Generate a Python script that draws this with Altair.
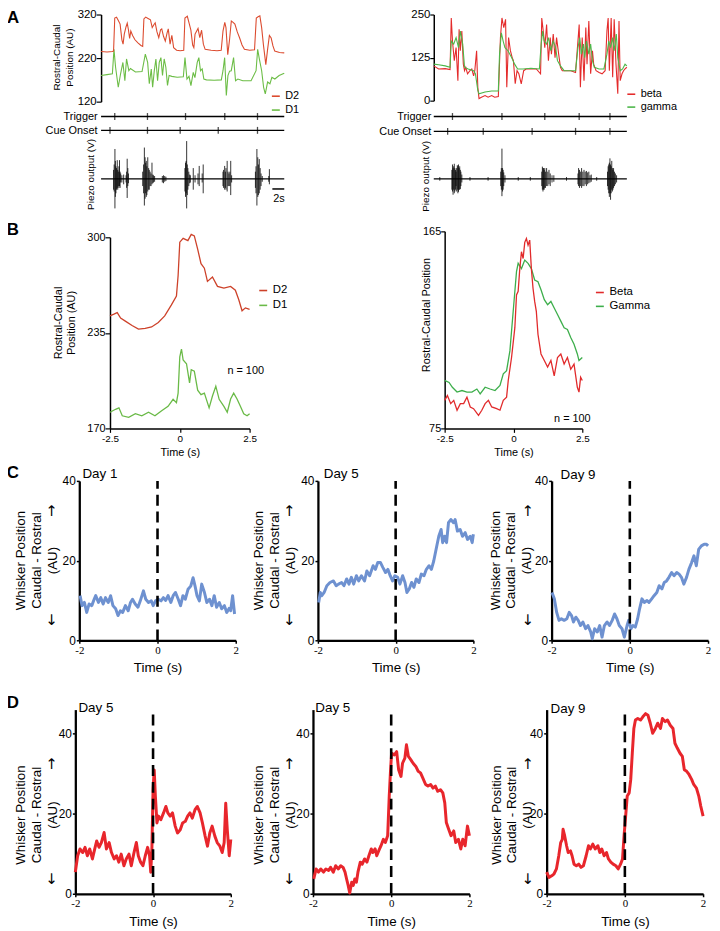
import altair as alt
import pandas as pd

# ============================ DATA ============================
# ---- Panel A, left: rostral-caudal position (AU) of whiskers D2 / D1 vs time (s)
A1_T_D2 = [0, 1.0, 1.9, 2.1, 2.3, 2.6, 2.9, 3.2, 3.5, 3.7, 3.9, 4.2, 4.4, 4.6, 4.8, 5.0, 5.3, 5.7, 6.2, 6.7,
           7.0, 7.2, 7.5, 7.9, 8.3, 8.6, 8.9, 9.1, 9.4, 9.7, 10.0, 10.2, 10.5, 10.8, 11.1, 11.3, 11.6, 11.9,
           12.2, 12.7, 13.3, 13.9, 14.1, 14.5, 14.8, 15.1, 15.4, 15.6, 15.8, 16.1, 16.3, 16.6, 16.9, 17.2,
           17.5, 18.5, 19.5, 20.2, 20.5, 20.8, 21.0, 21.3, 21.6, 21.9, 22.2, 22.5, 22.9, 23.3, 23.7, 24.1,
           25.0, 25.8, 26.1, 26.4, 26.7, 27.0, 27.3, 27.5, 27.7, 28.0, 28.3, 28.6, 28.9, 29.2, 30.0, 30.8]
A1_D2 = [235, 234, 235, 236, 312, 314, 306, 298, 262, 252, 275, 292, 300, 285, 265, 282, 272, 262, 255, 249,
         247, 310, 314, 311, 308, 290, 297, 301, 280, 267, 285, 287, 270, 259, 278, 287, 252, 272,
         244, 238, 237, 238, 312, 316, 300, 284, 250, 244, 275, 283, 288, 267, 284, 252,
         240, 238, 237, 238, 282, 302, 290, 228, 262, 305, 302, 298, 280, 266, 250, 240,
         238, 239, 312, 315, 317, 290, 250, 228, 205, 240, 272, 266, 248, 236, 233, 232]
A1_T_D1 = [0, 1.0, 1.9, 2.17, 2.44, 2.89, 3.28, 3.67, 4.0, 4.28, 4.67, 4.94, 5.78, 6.89, 7.44, 7.83, 8.11,
           8.44, 8.67, 8.94, 9.22, 9.5, 9.78, 10.06, 10.33, 10.61, 10.89, 11.17, 11.44, 11.89, 12.8, 13.83,
           14.11, 14.44, 14.78, 15.11, 15.5, 15.78, 16.17, 16.44, 16.72, 17.0, 17.28, 17.72, 19.0, 20.22,
           20.5, 20.78, 21.06, 21.33, 21.61, 21.89, 22.28, 22.61, 23.0, 23.83, 25.22, 26.06, 26.33, 26.61,
           27.0, 27.33, 27.61, 28.0, 28.39, 28.72, 29.22, 29.94, 30.8]
A1_D1 = [180, 182, 184, 240, 199, 153, 184, 210, 168, 218, 191, 196, 188, 189, 229, 210, 161,
         195, 153, 190, 218, 168, 210, 221, 180, 218, 199, 157, 180, 178, 176, 177,
         221, 172, 178, 157, 187, 175, 210, 221, 191, 195, 172, 170, 169, 170,
         191, 221, 134, 180, 190, 191, 221, 168, 172, 168, 168, 191, 240, 218,
         191, 153, 138, 165, 161, 176, 172, 180, 185]
A1_TRIGGER = [2.3, 7.8, 14.2, 20.8, 26.3]
A1_CUE = [1.5, 7.8, 13.3, 19.7, 26.3]
A1_PZ_T = [2.1, 2.2, 2.33, 2.4, 2.5, 2.6, 2.72, 2.8, 2.9, 3.0, 3.1, 3.2, 3.3, 3.5, 3.8, 4.2, 4.3, 4.39, 4.5, 4.6,
           7.0, 7.15, 7.28, 7.4, 7.5, 7.6, 7.7, 7.85, 8.0, 8.1, 8.25, 8.4, 8.56, 8.7, 8.8, 9.0,
           10.3, 10.5, 10.7, 10.9,
           14.1, 14.2, 14.3, 14.39, 14.5, 14.6, 14.75, 14.9, 15.0, 15.5, 15.8, 16.3, 16.5, 17.0, 17.17,
           20.5, 20.6, 20.78, 20.9, 21.0, 21.2, 21.35, 21.5, 21.65, 21.8, 21.95,
           25.95, 26.05, 26.2, 26.35, 26.45, 26.6, 26.75, 26.9, 27.1, 28.2, 28.3]
A1_PZ_HI = [0.25, 0.4, 0.83, 0.5, 0.35, 0.3, 0.52, 0.25, 0.2, 0.35, 0.52, 0.2, 0.15, 0.1, 0.12, 0.1, 0.2, 0.56, 0.3, 0.15,
            0.2, 0.4, 0.87, 0.6, 0.45, 0.5, 0.35, 0.6, 0.3, 0.25, 0.2, 0.15, 0.45, 0.12, 0.1, 0.08,
            0.08, 0.1, 0.08, 0.06,
            0.3, 0.45, 0.5, 1.05, 0.4, 0.3, 0.2, 0.12, 0.1, 0.3, 0.1, 0.15, 0.36, 0.15, 0.4,
            0.2, 0.25, 0.36, 0.2, 0.3, 0.5, 0.2, 0.15, 0.2, 0.5, 0.1,
            0.2, 0.35, 0.83, 0.6, 0.4, 0.55, 0.3, 0.15, 0.08, 0.08, 0.27]
A1_PZ_LO = [-0.3, -0.35, -0.82, -0.5, -0.4, -0.3, -0.25, -0.3, -0.2, -0.25, -0.2, -0.25, -0.1, -0.1, -0.15, -0.1, -0.25, -0.53, -0.2, -0.12,
            -0.2, -0.4, -0.74, -0.55, -0.4, -0.5, -0.45, -0.35, -0.3, -0.3, -0.2, -0.2, -0.15, -0.12, -0.1, -0.08,
            -0.1, -0.12, -0.08, -0.06,
            -0.35, -0.5, -0.4, -0.82, -0.45, -0.3, -0.2, -0.12, -0.1, -0.3, -0.1, -0.15, -0.2, -0.1, -0.4,
            -0.2, -0.25, -0.3, -0.25, -0.3, -0.35, -0.2, -0.2, -0.2, -0.45, -0.1,
            -0.25, -0.4, -0.74, -0.5, -0.45, -0.4, -0.3, -0.2, -0.08, -0.08, -0.15]

# ---- Panel A, right: beta / gamma whiskers
A2_T_BETA = [0, 0.8, 1.9, 2.7, 2.9, 3.1, 3.4, 3.7, 4.0, 4.2, 4.4, 4.65, 4.9, 5.1, 5.3, 5.6, 6.0, 6.3, 6.6, 6.8,
             7.1, 7.3, 7.5, 7.9, 8.5, 9.0, 9.6, 10.1, 10.7, 11.05, 11.3, 11.6, 11.9, 12.1, 12.4, 12.7, 13.0,
             13.2, 13.5, 13.8, 14.1, 14.5, 14.9, 15.3, 16.1, 17.0, 17.7, 17.9, 18.2, 18.4, 18.7, 19.0, 19.3,
             19.5, 19.8, 20.1, 20.35, 20.7, 21.0, 21.3, 21.9, 22.7, 23.5, 24.1, 24.3, 24.6, 24.9, 25.2, 25.4,
             25.7, 26.0, 26.3, 26.5, 26.9, 27.4, 27.9, 28.4, 28.7, 28.9, 29.1, 29.4, 29.65, 29.9, 30.2, 30.5,
             30.7, 30.9, 31.2, 31.45, 31.7, 32.0]
A2_BETA = [101, 92, 93, 90, 240, 173, 116, 154, 58, 207, 145, 202, 106, 87, 97, 78, 87, 92, 72, 87,
           145, 39, 6, 10, 15, 10, 15, 10, 12, 183, 240, 212, 236, 39, 183, 145, 125,
           116, 49, 87, 78, 49, 87, 92, 92, 92, 78, 240, 193, 154, 221, 116, 183,
           135, 193, 125, 183, 135, 97, 87, 87, 87, 82, 221, 39, 183, 58, 212, 106,
           231, 78, 145, 106, 87, 82, 78, 87, 202, 240, 87, 240, 68, 236, 106, 20,
           231, 58, 78, 87, 92, 97]
A2_T_GAMMA = [0, 0.8, 1.9, 2.7, 2.9, 3.3, 3.7, 4.1, 4.4, 4.8, 5.1, 5.7, 6.6, 6.9, 7.3, 7.5, 8.5, 9.6, 10.7,
              10.9, 11.2, 11.5, 11.8, 12.3, 12.9, 13.4, 13.9, 14.8, 16.1, 17.5, 17.8, 18.05, 18.3, 18.7, 19.0,
              19.4, 19.8, 20.2, 20.5, 21.0, 21.6, 22.7, 23.5, 23.9, 24.2, 24.45, 24.8, 25.0, 25.3, 25.7, 26.0,
              26.3, 26.6, 27.4, 28.2, 28.7, 29.0, 29.3, 29.65, 29.9, 30.25, 30.5, 30.9, 31.3, 31.7, 32.0]
A2_GAMMA = [106, 104, 101, 97, 173, 164, 183, 154, 202, 164, 97, 92, 87, 78, 30, 20, 25, 28, 28,
            135, 197, 173, 154, 145, 125, 106, 92, 92, 94, 92, 164, 202, 173, 164, 183,
            145, 173, 154, 116, 101, 87, 87, 87, 154, 183, 135, 164, 125, 173, 135, 164,
            116, 97, 92, 92, 135, 173, 154, 183, 145, 193, 125, 87, 92, 106, 101]
A2_TRIGGER = [3.1, 11.3, 18.4, 24.1, 29.2]
A2_CUE = [2.3, 8.2, 16.3, 23.5, 29.2]
A2_PZ_T = [3.0, 3.1, 3.2, 3.3, 3.4, 3.5, 3.6, 3.7, 3.8, 3.9, 4.0, 4.1, 4.2, 4.3, 4.4, 4.5, 4.65,
           11.1, 11.2, 11.3, 11.4, 11.5, 11.6, 11.8,
           17.9, 18.0, 18.1, 18.2, 18.3, 18.4, 18.5, 18.7, 18.9, 19.1, 19.3, 19.6, 19.9,
           23.9, 24.0, 24.15, 24.3, 24.5, 24.7, 24.9, 25.1, 25.3, 25.5, 25.7, 25.9, 26.1,
           28.8, 28.9, 29.0, 29.1, 29.2, 29.3, 29.4, 29.5, 29.6, 29.7, 29.8, 29.95, 30.1, 30.3,
           1.0, 6.0, 9.0, 14.0, 16.0, 22.0, 27.0]
A2_PZ_HI = [0.25, 0.4, 0.3, 0.35, 0.42, 0.3, 0.25, 0.2, 0.3, 0.38, 0.35, 0.4, 0.3, 0.35, 0.25, 0.2, 0.12,
            0.2, 0.3, 0.84, 0.3, 0.25, 0.18, 0.1,
            0.2, 0.34, 0.3, 0.3, 0.25, 0.3, 0.2, 0.3, 0.2, 0.25, 0.15, 0.1, 0.1,
            0.15, 0.3, 0.25, 0.2, 0.3, 0.2, 0.25, 0.2, 0.22, 0.18, 0.2, 0.1, 0.12,
            0.2, 0.35, 0.4, 0.45, 0.57, 0.4, 0.35, 0.5, 0.3, 0.25, 0.3, 0.2, 0.15, 0.1,
            0.05, 0.05, 0.05, 0.05, 0.05, 0.05, 0.05]
A2_PZ_LO = [-0.3, -0.35, -0.44, -0.3, -0.4, -0.35, -0.3, -0.2, -0.35, -0.3, -0.4, -0.36, -0.3, -0.3, -0.28, -0.2, -0.1,
            -0.2, -0.3, -0.48, -0.35, -0.3, -0.2, -0.1,
            -0.2, -0.3, -0.35, -0.3, -0.3, -0.25, -0.25, -0.2, -0.2, -0.15, -0.2, -0.1, -0.08,
            -0.15, -0.2, -0.25, -0.2, -0.25, -0.2, -0.2, -0.15, -0.2, -0.15, -0.12, -0.1, -0.08,
            -0.2, -0.3, -0.4, -0.5, -0.4, -0.58, -0.4, -0.3, -0.35, -0.3, -0.25, -0.2, -0.15, -0.1,
            -0.05, -0.05, -0.05, -0.05, -0.05, -0.05, -0.05]

# ---- Panel B, left: averaged D2 / D1 (n = 100)
B1_T_D2 = [-2.5, -2.36, -2.24, -2.12, -1.95, -1.71, -1.48, -1.24, -1.01, -0.77, -0.54, -0.3, -0.12, -0.06, 0.0,
           0.12, 0.29, 0.41, 0.52, 0.64, 0.76, 0.88, 0.99, 1.17, 1.35, 1.58, 1.82, 1.99, 2.11, 2.23, 2.35, 2.5]
B1_D2 = [246.5, 247.7, 248.8, 245, 243, 240, 237.6, 238, 239, 242, 246.5, 254, 260, 274, 296.7,
         299.3, 297.8, 302, 301, 292, 282, 279, 270, 273, 266.6, 265.5, 266.6, 264, 257.7, 250, 252, 251]
B1_T_D1 = [-2.5, -2.3, -2.18, -2.06, -1.83, -1.59, -1.36, -1.12, -0.89, -0.65, -0.42, -0.24, -0.12, -0.06, 0.0,
           0.06, 0.12, 0.24, 0.35, 0.41, 0.52, 0.64, 0.76, 0.88, 1.05, 1.17, 1.29, 1.41, 1.58, 1.7, 1.82, 1.93,
           2.05, 2.17, 2.29, 2.41, 2.5]
B1_D1 = [181, 183, 184, 178.6, 177.5, 180, 178.6, 181, 178.6, 182, 185, 189.8, 187.5, 194, 218.7,
         224, 216.5, 214, 201, 210, 209, 196, 193, 194, 184, 192, 198.7, 189.8, 185, 181, 190, 194,
         190, 185, 180, 178.6, 180]

# ---- Panel B, right: averaged Beta / Gamma (n = 100)
B2_T_BETA = [-2.5, -2.4, -2.28, -2.17, -2.05, -1.93, -1.81, -1.69, -1.57, -1.45, -1.27, -1.15, -1.03, -0.91, -0.79,
             -0.61, -0.49, -0.37, -0.25, -0.19, -0.07, 0.05, 0.11, 0.17, 0.23, 0.29, 0.35, 0.41, 0.47, 0.53,
             0.59, 0.65, 0.71, 0.77, 0.83, 0.89, 1.0, 1.12, 1.24, 1.36, 1.48, 1.6, 1.72, 1.84, 1.96, 2.08,
             2.2, 2.32, 2.38, 2.44, 2.5]
B2_BETA = [87.8, 90, 86.3, 87.8, 83.3, 86.3, 86.3, 89.3, 84.8, 84, 81, 83.3, 86.3, 87.8, 84.8,
           84, 83.3, 87.8, 89.3, 96.9, 107.4, 121, 136, 137.6, 148, 155.7, 152.6, 160, 161.7, 158.7,
           161, 148, 139, 133, 128.5, 118, 109, 106, 103, 106, 99, 107.4, 109, 104.4, 107.4, 102,
           104.4, 93.8, 91.6, 98.4, 96.9]
B2_T_GAMMA = [-2.5, -2.34, -2.22, -2.05, -1.87, -1.69, -1.51, -1.33, -1.21, -1.03, -0.85, -0.67, -0.49, -0.37,
              -0.25, -0.13, -0.01, 0.11, 0.17, 0.29, 0.41, 0.53, 0.65, 0.77, 0.89, 1.0, 1.12, 1.24, 1.36, 1.48,
              1.6, 1.72, 1.84, 1.96, 2.08, 2.2, 2.32, 2.38, 2.5]
B2_GAMMA = [96.9, 96, 93.8, 91.6, 92.3, 91.6, 91.6, 93, 90.8, 93.8, 93, 92.3, 94.6, 99.9,
            101.4, 110.4, 128.5, 146.6, 150.4, 148, 151.9, 150.4, 148, 142.8, 142, 138.3, 133.8, 131.5, 133, 130,
            127, 124, 121, 120.2, 116.5, 113.4, 109, 106, 107.4]

# ---- Panel C: whisker position (AU), days 1 / 5 / 9
C1_T = [-1.98, -1.93, -1.87, -1.81, -1.75, -1.68, -1.62, -1.58, -1.51, -1.45, -1.39, -1.33, -1.26, -1.2, -1.14,
        -1.07, -1.01, -0.95, -0.89, -0.82, -0.75, -0.69, -0.64, -0.57, -0.5, -0.44, -0.36, -0.3, -0.23, -0.16,
        -0.11, -0.05, 0.02, 0.09, 0.15, 0.21, 0.27, 0.34, 0.4, 0.46, 0.53, 0.59, 0.65, 0.71, 0.78, 0.85, 0.91,
        0.96, 1.01, 1.07, 1.13, 1.2, 1.26, 1.33, 1.39, 1.45, 1.51, 1.58, 1.64, 1.71, 1.77, 1.83, 1.87, 1.92, 1.97]
C1_V = [11.2, 8.7, 9.5, 7.0, 9.1, 8.7, 10.3, 11.2, 9.5, 10.7, 9.1, 10.7, 9.5, 11.2, 8.7,
        7.9, 6.2, 7.4, 7.0, 8.7, 7.4, 9.5, 10.3, 9.1, 8.3, 9.9, 12.4, 10.3, 9.5, 9.9,
        8.7, 9.9, 10.3, 9.9, 10.7, 10.0, 11.2, 9.5, 11.2, 12.0, 10.3, 8.7, 11.2, 10.3, 12.8, 13.6, 15.7,
        13.6, 11.2, 9.9, 14.1, 12.0, 9.5, 10.3, 8.7, 11.2, 8.3, 9.5, 7.9, 8.7, 7.0, 8.0, 7.4, 11.2, 6.6]
C2_T = [-1.98, -1.94, -1.9, -1.84, -1.77, -1.69, -1.6, -1.53, -1.47, -1.39, -1.33, -1.26, -1.2, -1.14, -1.08,
        -1.01, -0.95, -0.88, -0.8, -0.74, -0.67, -0.58, -0.52, -0.46, -0.39, -0.33, -0.26, -0.2, -0.14, -0.08,
        -0.02, 0.05, 0.11, 0.18, 0.24, 0.29, 0.35, 0.41, 0.47, 0.53, 0.6, 0.66, 0.73, 0.79, 0.86, 0.92, 0.98,
        1.04, 1.11, 1.17, 1.21, 1.26, 1.31, 1.36, 1.42, 1.49, 1.53, 1.59, 1.66, 1.72, 1.79, 1.85, 1.92, 1.97, 2.0]
C2_V = [9.5, 12.0, 11.2, 12.0, 13.7, 14.5, 14.9, 13.7, 14.1, 14.5, 13.7, 15.4, 14.1, 15.8, 14.1,
        16.2, 14.9, 16.2, 14.9, 17.4, 16.2, 18.7, 17.8, 19.5, 19.5, 18.3, 17.0, 17.8, 16.2, 14.9,
        16.2, 15.8, 14.1, 16.2, 14.5, 12.0, 12.9, 14.5, 13.3, 15.4, 14.5, 16.6, 16.2, 17.8, 18.7, 17.8, 19.9,
        22.8, 26.1, 27.8, 24.5, 26.1, 24.5, 29.5, 30.3, 29.5, 30.3, 27.4, 27.8, 26.1, 27.0, 25.3, 26.1, 24.5, 26.6]
C3_T = [-1.99, -1.93, -1.87, -1.81, -1.75, -1.68, -1.61, -1.55, -1.49, -1.44, -1.38, -1.32, -1.26, -1.2, -1.13,
        -1.07, -1.0, -0.96, -0.9, -0.83, -0.77, -0.71, -0.65, -0.58, -0.52, -0.45, -0.39, -0.33, -0.27, -0.2,
        -0.14, -0.07, -0.03, 0.03, 0.08, 0.14, 0.2, 0.25, 0.31, 0.37, 0.44, 0.49, 0.56, 0.62, 0.69, 0.75, 0.82,
        0.88, 0.94, 1.0, 1.07, 1.13, 1.2, 1.26, 1.32, 1.38, 1.45, 1.51, 1.58, 1.64, 1.7, 1.76, 1.83, 1.9, 1.96, 2.0]
C3_V = [12.0, 10.4, 7.0, 5.0, 5.4, 5.0, 5.4, 7.0, 6.2, 4.6, 5.8, 5.0, 3.7, 4.6, 2.9,
        3.7, 2.1, 0.4, 2.9, 2.1, 3.7, 0.8, 3.7, 4.6, 3.7, 5.0, 6.6, 5.4, 3.7, 2.9,
        0.8, 3.7, 5.0, 2.9, 3.7, 3.3, 5.4, 7.9, 10.4, 9.5, 10.0, 9.5, 10.4, 11.2, 12.0, 13.7, 12.9,
        14.5, 14.9, 15.8, 17.0, 16.2, 17.0, 16.6, 15.8, 14.1, 15.8, 17.8, 19.5, 21.2, 18.7, 22.8, 23.7, 24.1, 24.1, 23.7]

# ---- Panel D: whisker position (AU), days 5 / 5 / 9
D1_T = [-2.0, -1.94, -1.88, -1.81, -1.75, -1.69, -1.63, -1.56, -1.5, -1.45, -1.39, -1.33, -1.26, -1.2, -1.13,
        -1.07, -1.0, -0.94, -0.88, -0.82, -0.75, -0.69, -0.62, -0.56, -0.49, -0.43, -0.38, -0.32, -0.26, -0.2,
        -0.14, -0.09, -0.06, -0.03, 0.0, 0.03, 0.06, 0.1, 0.14, 0.2, 0.27, 0.33, 0.38, 0.44, 0.5, 0.57, 0.63,
        0.7, 0.76, 0.83, 0.89, 0.95, 1.01, 1.08, 1.14, 1.21, 1.27, 1.34, 1.4, 1.46, 1.52, 1.59, 1.65, 1.72,
        1.78, 1.83, 1.87, 1.91, 1.96, 2.0]
D1_V = [5.4, 9.5, 11.2, 10.3, 11.6, 9.5, 11.2, 8.7, 11.2, 13.2, 11.6, 12.8, 15.3, 11.2, 12.8,
        10.3, 8.7, 9.5, 7.9, 9.9, 7.0, 8.7, 9.9, 7.0, 10.3, 12.8, 9.5, 7.9, 7.0, 9.5,
        11.6, 9.5, 5.4, 11.2, 26.0, 30.9, 24.3, 17.7, 19.4, 18.5, 20.2, 21.8, 20.2, 19.4, 20.2, 16.9, 15.2,
        16.0, 17.7, 18.1, 19.4, 20.2, 18.9, 21.0, 21.8, 20.2, 17.7, 14.4, 11.9, 15.2, 16.9, 14.4, 12.8, 11.9,
        10.3, 12.8, 22.6, 16.0, 9.5, 13.6]
D2_T = [-1.98, -1.92, -1.86, -1.8, -1.73, -1.67, -1.6, -1.55, -1.48, -1.42, -1.35, -1.29, -1.23, -1.18, -1.14,
        -1.1, -1.06, -1.01, -0.97, -0.93, -0.89, -0.85, -0.79, -0.74, -0.68, -0.62, -0.57, -0.51, -0.47, -0.41,
        -0.37, -0.32, -0.26, -0.2, -0.15, -0.09, -0.05, -0.02, 0.01, 0.08, 0.14, 0.19, 0.25, 0.29, 0.35, 0.39,
        0.44, 0.5, 0.56, 0.63, 0.69, 0.75, 0.81, 0.88, 0.94, 1.01, 1.07, 1.13, 1.19, 1.26, 1.32, 1.37, 1.41,
        1.47, 1.53, 1.6, 1.65, 1.72, 1.78, 1.83, 1.89, 1.95, 2.0]
D2_V = [3.7, 6.2, 5.4, 6.2, 5.4, 6.2, 5.8, 6.6, 5.4, 7.0, 6.2, 7.0, 6.6, 5.4, 3.7,
        2.1, 0.2, 2.9, 2.1, 3.7, 2.9, 5.4, 7.9, 7.4, 8.7, 7.9, 9.5, 11.2, 10.3, 11.2,
        9.5, 10.7, 12.0, 13.6, 12.8, 14.5, 24.4, 30.2, 35.1, 34.7, 35.5, 31.0, 29.3, 32.6, 33.9, 37.2,
        34.3, 33.5, 32.6, 31.8, 30.6, 30.2, 28.9, 27.3, 26.9, 27.3, 26.4, 26.9, 25.6, 26.0, 25.2, 22.7, 17.8,
        16.1, 14.5, 15.7, 12.8, 13.6, 11.2, 13.6, 12.0, 16.9, 14.5]
D3_T = [-2.0, -1.94, -1.87, -1.81, -1.75, -1.69, -1.64, -1.6, -1.58, -1.54, -1.49, -1.45, -1.39, -1.35, -1.3,
        -1.24, -1.18, -1.12, -1.06, -0.99, -0.93, -0.88, -0.82, -0.76, -0.69, -0.64, -0.59, -0.53, -0.47, -0.42,
        -0.36, -0.3, -0.23, -0.17, -0.11, -0.06, -0.02, 0.02, 0.06, 0.11, 0.15, 0.19, 0.23, 0.27, 0.33, 0.4,
        0.46, 0.53, 0.59, 0.65, 0.71, 0.78, 0.84, 0.91, 0.96, 1.03, 1.09, 1.16, 1.23, 1.28, 1.34, 1.41, 1.47,
        1.52, 1.58, 1.64, 1.71, 1.76, 1.83, 1.89, 1.94, 2.0]
D3_V = [5.4, 4.1, 4.5, 5.0, 6.2, 9.5, 12.8, 13.6, 16.1, 14.5, 12.0, 10.3, 10.7, 9.5, 7.4,
        7.0, 7.4, 6.6, 7.0, 9.5, 12.0, 11.2, 12.4, 11.2, 12.0, 10.3, 11.2, 9.5, 10.3, 8.7,
        7.9, 7.4, 7.0, 6.2, 7.4, 8.7, 14.5, 19.4, 24.4, 25.2, 28.5, 35.1, 41.3, 43.4, 43.8, 43.4,
        44.2, 45.0, 44.6, 42.6, 40.1, 41.3, 42.6, 41.3, 43.8, 43.0, 43.4, 42.1, 41.3, 37.6, 36.4, 35.1, 34.3,
        31.0, 30.6, 29.8, 28.5, 27.3, 26.4, 24.4, 21.9, 19.4]

# ============================ LAYOUT / STYLE ============================
FONT = "Liberation Sans"
SERIF = "Liberation Serif"
W, H = 711, 922

RED_A1, GREEN_A1 = "#dc4b2f", "#6cbd46"
RED_A2, GREEN_A2 = "#e42b2b", "#4db749"
RED_B1, GREEN_B1 = "#cd4129", "#6aba47"
RED_B2, GREEN_B2 = "#e12a2b", "#3dae4b"
BLUE = "#6e91d0"
RED = "#e8262c"
MINUS_FIX = "replace(datum.label, '\u2212', '-')"
NUMFMT = ".4~g"


def sc(dom, rng, **kw):
    return alt.Scale(domain=dom, range=rng, nice=False, zero=False, **kw)


def series_df(*parts):
    frames = []
    for name, t, v in parts:
        n = min(len(t), len(v))
        frames.append(pd.DataFrame({"t": t[:n], "v": v[:n], "series": name}))
    return pd.concat(frames, ignore_index=True)


def single_df(t, v):
    n = min(len(t), len(v))
    return pd.DataFrame({"t": t[:n], "v": v[:n]})


def y_axis(xpos, values, label_size=11, tick_size=5, label_pad=1, dom_w=1.5, tick_w=1.2,
           title=None, **tkw):
    d = dict(orient="left", offset=-xpos, values=values, format=NUMFMT, labelExpr=MINUS_FIX,
             grid=False, domainColor="black", domainWidth=dom_w, tickColor="black", tickWidth=tick_w,
             tickSize=tick_size, labelFont=FONT, labelFontSize=label_size, labelColor="black",
             labelPadding=label_pad, labelOverlap=False, title=title)
    if title is not None:
        d.update(titleFont=FONT, titleFontWeight="normal", titleColor="black", titleAngle=270,
                 titleAlign="center", titleBaseline="bottom")
        d.update(tkw)
    return alt.Axis(**d)


def x_axis(ypos, values, label_font, label_size, title_size, title_y, dom_w=1.5, tick_size=4,
           tick_w=1.2, label_pad=1):
    return alt.Axis(orient="bottom", offset=ypos - H, values=values, format=NUMFMT, labelExpr=MINUS_FIX,
                    grid=False, domainColor="black", domainWidth=dom_w, tickColor="black", tickWidth=tick_w,
                    tickSize=tick_size, labelFont=label_font, labelFontSize=label_size, labelColor="black",
                    labelPadding=label_pad, labelFlush=False, labelOverlap=False,
                    title="Time (s)", titleFont=FONT, titleFontSize=title_size, titleFontWeight="normal",
                    titleColor="black", titleBaseline="top", titleY=title_y)


def legend(x, y, size=11, row_pad=2):
    return alt.Legend(orient="none", legendX=x, legendY=y, title=None, symbolType="stroke",
                      symbolStrokeWidth=1.6, symbolSize=64, labelFont=FONT, labelFontSize=size,
                      labelColor="black", rowPadding=row_pad, labelOffset=4, padding=0)


def text_layer(rows, xdom, xr, ydom, yr, size, weight="normal", align="center", font=FONT):
    df = pd.DataFrame(rows, columns=["x", "y", "label"])
    return alt.Chart(df).mark_text(font=font, fontSize=size, fontWeight=weight, align=align,
                                   baseline="middle", color="black").encode(
        x=alt.X("x:Q", scale=sc(xdom, xr), axis=None),
        y=alt.Y("y:Q", scale=sc(ydom, yr), axis=None),
        text="label:N")


def event_layers(trig, cue, xdom, xr, rows_range, label_pad):
    ev = pd.DataFrame({"event": ["Trigger"] * len(trig) + ["Cue Onset"] * len(cue), "t": trig + cue})
    rows = pd.DataFrame({"event": ["Trigger", "Cue Onset"], "t0": [xdom[0]] * 2, "t1": [xdom[1]] * 2})
    ysc = alt.Scale(type="point", domain=["Trigger", "Cue Onset"], range=rows_range, padding=0)
    rule = alt.Chart(rows).mark_rule(color="black", strokeWidth=1.3).encode(
        x=alt.X("t0:Q", scale=sc(xdom, xr), axis=None), x2="t1:Q",
        y=alt.Y("event:N", scale=ysc,
                axis=alt.Axis(orient="left", offset=-xr[0], domain=False, ticks=False, grid=False,
                              labelFont=FONT, labelFontSize=11, labelColor="black",
                              labelPadding=label_pad, title=None)))
    ticks = alt.Chart(ev).mark_tick(color="black", size=7, thickness=1.3).encode(
        x=alt.X("t:Q", scale=sc(xdom, xr), axis=None),
        y=alt.Y("event:N", scale=ysc, axis=None))
    return [rule, ticks]


PZ_DOM, PZ_RANGE = [-1.1, 1.1], [208, 128]


def piezo_layers(t, hi, lo, xdom, xr, title_x, title_y):
    n = min(len(t), len(hi), len(lo))
    df = pd.DataFrame({"t": t[:n], "hi": hi[:n], "lo": lo[:n]})
    base = alt.Chart(pd.DataFrame({"t0": [xdom[0]], "t1": [xdom[1]], "v": [0.0]})).mark_rule(
        color="black", strokeWidth=1.2).encode(
        x=alt.X("t0:Q", scale=sc(xdom, xr), axis=None), x2="t1:Q",
        y=alt.Y("v:Q", scale=sc(PZ_DOM, PZ_RANGE), axis=None))
    bursts = alt.Chart(df).mark_rule(color="black", strokeWidth=0.8).encode(
        x=alt.X("t:Q", scale=sc(xdom, xr), axis=None),
        y=alt.Y("lo:Q", scale=sc(PZ_DOM, PZ_RANGE),
                axis=alt.Axis(orient="left", offset=-xr[0], domain=False, ticks=False, labels=False,
                              grid=False, title="Piezo output (V)", titleFont=FONT, titleFontSize=10,
                              titleFontWeight="normal", titleColor="black", titleAngle=270,
                              titleAlign="center", titleBaseline="bottom", titleX=title_x,
                              titleY=title_y)),
        y2="hi:Q")
    return [base, bursts]


layers = []

# ---------------- Panel A left ----------------
XD_A1, XR_A1 = [0, 30.8], [94, 279]
YD_A1, YR_A1 = [120, 320], [90, 2]
layers.append(alt.Chart(series_df(("D1", A1_T_D1, A1_D1), ("D2", A1_T_D2, A1_D2))).mark_line(
    strokeWidth=1.1).encode(
    x=alt.X("t:Q", scale=sc(XD_A1, XR_A1), axis=None),
    y=alt.Y("v:Q", scale=sc(YD_A1, YR_A1),
            axis=y_axis(94, [120, 220, 320], label_size=11.5, tick_size=5, label_pad=0,
                        title=["Rostral-Caudal", "Position (AU)"], titleFontSize=10, titleLineHeight=13,
                        titleX=-40, titleY=45)),
    color=alt.Color("series:N", scale=alt.Scale(domain=["D2", "D1"], range=[RED_A1, GREEN_A1]),
                    legend=legend(265, 79))))
layers += event_layers(A1_TRIGGER, A1_CUE, XD_A1, XR_A1, [105, 119], 4)
layers += piezo_layers(A1_PZ_T, A1_PZ_HI, A1_PZ_LO, XD_A1, XR_A1, -6, 163)
layers.append(alt.Chart(pd.DataFrame({"t0": [28.8], "t1": [30.8], "v": [-0.28]})).mark_rule(
    color="black", strokeWidth=1.5).encode(
    x=alt.X("t0:Q", scale=sc(XD_A1, XR_A1), axis=None), x2="t1:Q",
    y=alt.Y("v:Q", scale=sc(PZ_DOM, PZ_RANGE), axis=None)))
layers.append(text_layer([(29.9, -0.57, "2s")], XD_A1, XR_A1, PZ_DOM, PZ_RANGE, 11))
layers.append(text_layer([(-14.8, 311, "A")], XD_A1, XR_A1, YD_A1, YR_A1, 17, weight="bold"))

# ---------------- Panel A right ----------------
XD_A2, XR_A2 = [0, 32], [430, 625]
YD_A2, YR_A2 = [0, 250], [89, 2]
layers.append(alt.Chart(series_df(("beta", A2_T_BETA, A2_BETA), ("gamma", A2_T_GAMMA, A2_GAMMA))).mark_line(
    strokeWidth=1.1).encode(
    x=alt.X("t:Q", scale=sc(XD_A2, XR_A2), axis=None),
    y=alt.Y("v:Q", scale=sc(YD_A2, YR_A2),
            axis=y_axis(430, [0, 125, 250], label_size=11.5, tick_size=4, label_pad=0)),
    color=alt.Color("series:N", scale=alt.Scale(domain=["beta", "gamma"], range=[RED_A2, GREEN_A2]),
                    legend=legend(624, 77, row_pad=1))))
layers += event_layers(A2_TRIGGER, A2_CUE, XD_A2, XR_A2, [105, 120], 3)
layers += piezo_layers(A2_PZ_T, A2_PZ_HI, A2_PZ_LO, XD_A2, XR_A2, -3, 165)

# ---------------- Panel B left ----------------
XD_B, YD_B1 = [-2.5, 2.5], [170, 300]
XR_B1, YR_B1 = [103, 244], [420, 227]
layers.append(alt.Chart(series_df(("D1", B1_T_D1, B1_D1), ("D2", B1_T_D2, B1_D2))).mark_line(
    strokeWidth=1.3).encode(
    x=alt.X("t:Q", scale=sc(XD_B, XR_B1), axis=x_axis(420, [-2.5, 0, 2.5], FONT, 10, 11, 18)),
    y=alt.Y("v:Q", scale=sc(YD_B1, YR_B1),
            axis=y_axis(103, [170, 235, 300], label_size=11, tick_size=5, label_pad=0,
                        title=["Rostral-Caudal", "Position (AU)"], titleFontSize=11, titleLineHeight=13,
                        titleX=-47, titleY=313)),
    color=alt.Color("series:N", scale=alt.Scale(domain=["D2", "D1"], range=[RED_B1, GREEN_B1]),
                    legend=legend(252, 275, size=11.5))))
layers.append(text_layer([(2.36, 209, "n = 100")], XD_B, XR_B1, YD_B1, YR_B1, 11))
layers.append(text_layer([(-5.98, 304.7, "B")], XD_B, XR_B1, YD_B1, YR_B1, 17, weight="bold"))

# ---------------- Panel B right ----------------
YD_B2 = [75, 165]
XR_B2, YR_B2 = [441, 580], [420, 221]
layers.append(alt.Chart(series_df(("Gamma", B2_T_GAMMA, B2_GAMMA), ("Beta", B2_T_BETA, B2_BETA))).mark_line(
    strokeWidth=1.3).encode(
    x=alt.X("t:Q", scale=sc(XD_B, XR_B2), axis=x_axis(420, [-2.5, 0, 2.5], FONT, 10, 11, 18)),
    y=alt.Y("v:Q", scale=sc(YD_B2, YR_B2),
            axis=y_axis(441, [75, 165], label_size=11, tick_size=4, label_pad=0,
                        title="Rostral-Caudal Position", titleFontSize=11, titleX=-13, titleY=305)),
    color=alt.Color("series:N", scale=alt.Scale(domain=["Beta", "Gamma"], range=[RED_B2, GREEN_B2]),
                    legend=legend(592, 277, size=11.5, row_pad=1))))
layers.append(text_layer([(2.14, 79.5, "n = 100")], XD_B, XR_B2, YD_B2, YR_B2, 11))

# ---------------- Panels C and D ----------------
WP_TITLE = ["Whisker Position", "Caudal - Rostral", "(AU)"]
XD_CD = [-2, 2]


def cd_panel(t, v, color, xr, yd, yr, x_axis_px, title_x, title_y, day, day_x, day_y,
             dash_top, arrow_dx, arrow_up, arrow_down):
    out = []
    out.append(alt.Chart(single_df(t, v)).mark_line(strokeWidth=3, color=color, strokeJoin="round").encode(
        x=alt.X("t:Q", scale=sc(XD_CD, xr),
                axis=x_axis(x_axis_px, [-2, 0, 2], SERIF, 11, 13.5, 21, dom_w=2.3, tick_size=3,
                            tick_w=1.5, label_pad=1)),
        y=alt.Y("v:Q", scale=sc(yd, yr),
                axis=y_axis(xr[0], [0, 20, 40], label_size=12, tick_size=3, label_pad=1, dom_w=2.3,
                            tick_w=1.5, title=WP_TITLE, titleFontSize=13.5, titleLineHeight=16,
                            titleX=title_x, titleY=title_y))))
    out.append(alt.Chart(pd.DataFrame({"t": [0.0], "v0": [0.0], "v1": [dash_top]})).mark_rule(
        color="black", strokeWidth=2.6, strokeDash=[11, 6]).encode(
        x=alt.X("t:Q", scale=sc(XD_CD, xr), axis=None),
        y=alt.Y("v0:Q", scale=sc(yd, yr), axis=None), y2="v1:Q"))
    out.append(text_layer([(day_x, day_y, day)], XD_CD, xr, yd, yr, 13.5, align="left"))
    # direction arrows next to the axis title
    ax = XD_CD[0] - arrow_dx * (XD_CD[1] - XD_CD[0]) / (xr[1] - xr[0])
    out.append(text_layer([(ax, arrow_up, "\u2191"), (ax, arrow_down, "\u2193")], XD_CD, xr, yd, yr, 15,
                          font="DejaVu Sans"))
    return out


YD_C, YR_C = [0, 40], [634, 473]
YD_D, YR_D = [0, 46], [890, 704]

layers += cd_panel(C1_T, C1_V, BLUE, [72, 230], YD_C, YR_C, 634, -52, 553, "Day 1", -1.92, 41.7, 40, 28, 32.5, 5.0)
layers += cd_panel(C2_T, C2_V, BLUE, [313, 470], YD_C, YR_C, 634, -53, 553, "Day 5", -1.85, 41.7, 40, 29, 32.5, 5.0)
layers += cd_panel(C3_T, C3_V, BLUE, [549, 707], YD_C, YR_C, 634, -50, 553, "Day 9", -1.77, 41.5, 40, 24, 32.5, 5.0)
layers.append(text_layer([(-3.70, 42.0, "C")], XD_CD, [72, 230], YD_C, YR_C, 17, weight="bold"))

layers += cd_panel(D1_T, D1_V, RED, [68, 225], YD_D, YR_D, 890, -48, 810, "Day 5", -1.92, 46.5, 45.3, 24, 32.4, 3.7)
layers += cd_panel(D2_T, D2_V, RED, [308, 466], YD_D, YR_D, 890, -48, 810, "Day 5", -1.94, 46.5, 45.3, 24, 32.4, 3.7)
layers += cd_panel(D3_T, D3_V, RED, [544, 702], YD_D, YR_D, 890, -44, 810, "Day 9", -1.90, 46.1, 45.3, 19, 32.4, 3.7)
layers.append(text_layer([(-3.61, 47.7, "D")], XD_CD, [68, 225], YD_D, YR_D, 17, weight="bold"))

chart = alt.layer(*layers).resolve_scale(
    x="independent", y="independent", color="independent"
).resolve_axis(
    x="independent", y="independent"
).resolve_legend(
    color="independent"
).properties(
    width=W, height=H, padding=0, autosize=alt.AutoSizeParams(type="none")
).configure_view(stroke=None).configure_axis(grid=False)

chart.save("out.html", embed_options={"renderer": "svg", "actions": False})
